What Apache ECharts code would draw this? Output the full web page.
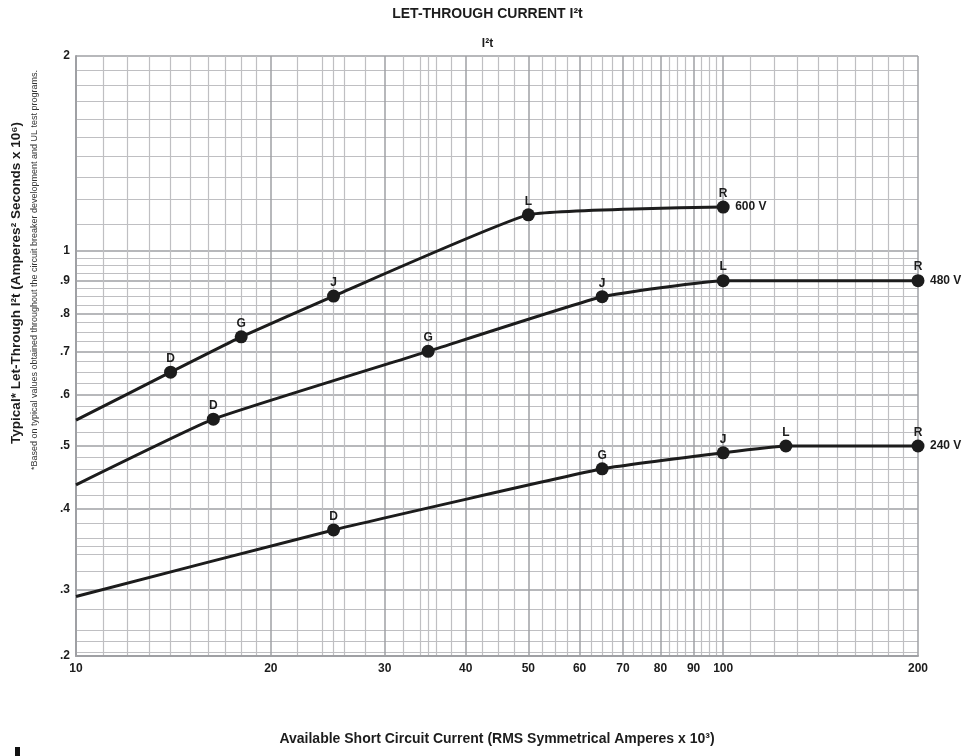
<!DOCTYPE html>
<html>
<head>
<meta charset="utf-8">
<script src="https://cdn.jsdelivr.net/npm/echarts@6/dist/echarts.min.js"></script>
<style>
  html, body { margin: 0; padding: 0; background: #fff; }
  #chart { width: 975px; height: 756px; }
</style>
</head>
<body>
<div id="chart"></div>
<script>
// axis ranges (the printed sheet is cut just under .24, the edge carries the ".2" label)
const xMin = 10
const xMax = 200
const yMin = 0.237
const yMax = 2

// grid paper lines
const xMinorLines = [
  11, 12, 13, 14, 15, 16, 17, 18, 19,
  22, 24, 25, 26, 28, 32, 34, 35, 36, 38,
  42.5, 45, 47.5, 52.5, 55, 57.5, 62.5, 65, 67.5, 72.5, 75, 77.5,
  82.5, 85, 87.5, 92.5, 95, 97.5,
  110, 120, 130, 140, 150, 160, 170, 180, 190
]
const xMajorLines = [10, 20, 30, 40, 50, 60, 70, 80, 90, 100, 200]
const xTickLabels = ['10', '20', '30', '40', '50', '60', '70', '80', '90', '100', '200']

const yMinorLines = [
  0.24, 0.25, 0.26, 0.28, 0.32, 0.34, 0.35, 0.36, 0.38,
  0.42, 0.44, 0.46, 0.48, 0.525, 0.55, 0.575, 0.625, 0.65, 0.675,
  0.725, 0.75, 0.775, 0.825, 0.85, 0.875, 0.925, 0.95, 0.975,
  1.1, 1.2, 1.3, 1.4, 1.5, 1.6, 1.7, 1.8, 1.9
]
const yMajorLines = [0.3, 0.4, 0.5, 0.6, 0.7, 0.8, 0.9, 1, 2]
const yTickValues = [0.2372, 0.3, 0.4, 0.5, 0.6, 0.7, 0.8, 0.9, 1, 2]
const yTickLabels = ['.2', '.3', '.4', '.5', '.6', '.7', '.8', '.9', '1', '2']

// curves: available current (kA) vs let-through I2t (x 10^6)
const v600Current = [10, 14, 18, 25, 50, 100]
const v600I2t = [0.548, 0.65, 0.737, 0.852, 1.137, 1.169]
const v600Frames = ['', 'D', 'G', 'J', 'L', 'R']

const v480Current = [10, 16.3, 35, 65, 100, 200]
const v480I2t = [0.4355, 0.55, 0.7, 0.85, 0.9, 0.9]
const v480Frames = ['', 'D', 'G', 'J', 'L', 'R']

const v240Current = [10, 25, 65, 100, 125, 200]
const v240I2t = [0.2928, 0.371, 0.461, 0.488, 0.5, 0.5]
const v240Frames = ['', 'D', 'G', 'J', 'L', 'R']

const font = "'Liberation Sans', Arial, Helvetica, sans-serif"
const ink = '#1c1c1c'

const chart = echarts.init(document.getElementById('chart'))

function curve(name, xs, ys, frames) {
  return {
    type: 'line',
    name: name,
    smooth: 0.12,
    xAxisIndex: 1,
    yAxisIndex: 1,
    symbolSize: 13,
    z: 5,
    lineStyle: { color: ink, width: 3 },
    itemStyle: { color: ink },
    label: {
      position: 'top',
      distance: 1,
      color: ink,
      fontFamily: font,
      fontWeight: 'bold',
      fontSize: 12
    },
    endLabel: {
      show: true,
      formatter: name,
      distance: 12,
      color: ink,
      fontFamily: font,
      fontWeight: 'bold',
      fontSize: 12
    },
    data: xs.map((x, i) => ({
      value: [x, ys[i]],
      symbol: frames[i] ? 'circle' : 'none',
      label: { show: !!frames[i], formatter: frames[i] }
    }))
  }
}

const minorLine = { show: true, lineStyle: { color: '#bfbfc2', width: 1.2 } }
const majorLine = { show: true, lineStyle: { color: '#9fa0a4', width: 1.5 } }

chart.setOption({
  animation: false,
  backgroundColor: '#fff',
  textStyle: { fontFamily: font },
  title: [
    {
      text: 'LET-THROUGH CURRENT I²t',
      left: 'center',
      top: 2,
      textStyle: { fontFamily: font, fontWeight: 'bold', fontSize: 14, color: ink }
    },
    {
      text: 'I²t',
      left: 'center',
      top: 33,
      textStyle: { fontFamily: font, fontWeight: 'bold', fontSize: 12, color: ink }
    }
  ],
  grid: { left: 76, right: 57, top: 56, bottom: 100 },
  xAxis: [
    {
      type: 'log',
      logBase: 10,
      min: xMin,
      max: xMax,
      position: 'bottom',
      axisLine: { show: false },
      axisTick: { show: false, customValues: xMinorLines },
      axisLabel: { show: false },
      splitLine: minorLine
    },
    {
      type: 'log',
      logBase: 10,
      min: xMin,
      max: xMax,
      position: 'bottom',
      axisLine: { show: true, lineStyle: { color: '#9fa0a4', width: 2 } },
      axisTick: { show: false, customValues: xMajorLines },
      axisLabel: {
        customValues: xMajorLines,
        formatter: (v) => xTickLabels[xMajorLines.indexOf(v)],
        color: ink,
        fontFamily: font,
        fontWeight: 'bold',
        fontSize: 12,
        margin: 7
      },
      splitLine: majorLine,
      name: 'Available Short Circuit Current (RMS Symmetrical Amperes x 10³)',
      nameLocation: 'middle',
      nameGap: 76,
      nameTextStyle: { color: ink, fontFamily: font, fontWeight: 'bold', fontSize: 14 }
    }
  ],
  yAxis: [
    {
      type: 'log',
      logBase: 10,
      min: yMin,
      max: yMax,
      position: 'left',
      axisLine: { show: false },
      axisTick: { show: false, customValues: yMinorLines },
      axisLabel: { show: false },
      splitLine: minorLine
    },
    {
      type: 'log',
      logBase: 10,
      min: yMin,
      max: yMax,
      position: 'left',
      axisLine: { show: true, lineStyle: { color: '#9fa0a4', width: 2 } },
      axisTick: { show: false, customValues: yMajorLines },
      axisLabel: {
        customValues: yTickValues,
        formatter: (v) => {
          let best = 0
          yTickValues.forEach((t, i) => {
            if (Math.abs(t - v) < Math.abs(yTickValues[best] - v)) best = i
          })
          return yTickLabels[best]
        },
        color: ink,
        fontFamily: font,
        fontWeight: 'bold',
        fontSize: 12,
        margin: 6
      },
      splitLine: majorLine
    }
  ],
  graphic: [
    {
      type: 'text',
      x: 16,
      y: 283,
      rotation: Math.PI / 2,
      style: {
        text: 'Typical* Let-Through I²t (Amperes² Seconds x 10⁶)',
        fill: ink,
        font: 'bold 13.5px ' + font,
        align: 'center',
        verticalAlign: 'middle'
      }
    },
    {
      type: 'text',
      x: 35,
      y: 270,
      rotation: Math.PI / 2,
      style: {
        text: '*Based on typical values obtained throughout the circuit breaker development and UL test programs.',
        fill: '#333',
        font: '9px ' + font,
        align: 'center',
        verticalAlign: 'middle'
      }
    },
    {
      type: 'rect',
      shape: { x: 15, y: 747, width: 5, height: 9 },
      style: { fill: '#111' }
    }
  ],
  series: [
    curve('600 V', v600Current, v600I2t, v600Frames),
    curve('480 V', v480Current, v480I2t, v480Frames),
    curve('240 V', v240Current, v240I2t, v240Frames)
  ]
})
</script>
</body>
</html>
